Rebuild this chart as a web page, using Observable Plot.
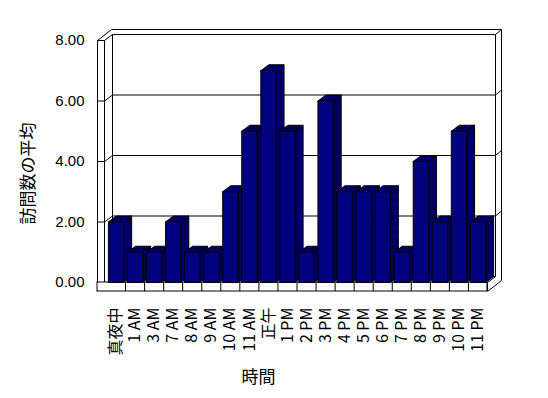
<!DOCTYPE html>
<html>
<head>
<meta charset="utf-8">
<script src="https://cdn.jsdelivr.net/npm/d3@7"></script>
<script src="https://cdn.jsdelivr.net/npm/@observablehq/plot@0.6"></script>
<style>
  html, body { margin: 0; padding: 0; background: #ffffff; }
</style>
</head>
<body>
<svg width="0" height="0" style="position:absolute">
  <defs>
    <pattern id="dither" x="-0.5" y="-0.5" width="2" height="2" patternUnits="userSpaceOnUse">
      <rect width="2" height="2" fill="#000000"/>
      <rect width="1" height="1" fill="#000080"/>
      <rect x="1" y="1" width="1" height="1" fill="#000080"/>
    </pattern>
  </defs>
</svg>
<div id="chart"></div>
<script>
// ---- data ----
const categories = ["真夜中","1 AM","3 AM","7 AM","8 AM","9 AM","10 AM","11 AM","正午","1 PM","2 PM","3 PM","4 PM","5 PM","6 PM","7 PM","8 PM","9 PM","10 PM","11 PM"];
const values = [2,1,1,2,1,1,3,5,7,5,1,6,3,3,3,1,4,2,5,2];
const yTicks = [0,2,4,6,8];
const yTickLabels = ["0.00","2.00","4.00","6.00","8.00"];
const xTitle = "時間";
const yTitle = "訪問数の平均";

// ---- layout ----
const W = 548, H = 398;
const X0 = 106, X1 = 487, Y0 = 282, Y8 = 40;
const n = categories.length, yMax = 8;
const kx = (X1 - X0) / n, ky = (Y0 - Y8) / yMax;
const px = p => p / kx, py = p => p / ky;

const dX = px(8), dY = py(6);      // depth to back wall
const tX = px(6), tY = py(5);      // wall thickness
const wallOut = -px(9), wallIn = -px(2);
const backL = wallIn + dX, backR = n + dX, outR = backR + tX;
const floorB = -py(9);

const seg = [];
const S = (x1, y1, x2, y2) => seg.push({x1, y1, x2, y2});
// left wall
S(wallOut, yMax, wallIn, yMax);
S(wallOut, yMax, wallOut, floorB);
S(wallIn, yMax, wallIn, 0);
S(wallOut, yMax, wallOut + dX + tX, yMax + dY + tY);
S(wallIn, yMax, backL, yMax + dY);
// back wall
S(backL, yMax + dY, backR, yMax + dY);
S(wallOut + dX + tX, yMax + dY + tY, outR, yMax + dY + tY);
S(backR, yMax + dY, backR, dY);
S(outR, yMax + dY + tY, outR, floorB + dY + tY);
S(backR, yMax + dY, outR, yMax + dY + tY);
S(backL, yMax + dY, backL, dY);
S(backL, dY, backR, dY);
// floor right end
S(n, 0, backR, dY);
S(n, floorB, outR, floorB + dY + tY);
// gridlines
for (const v of yTicks.filter(t => t > 0 && t < yMax)) {
  S(wallOut, v, wallIn, v);
  S(wallIn, v, backL, v + dY);
  S(backL, v + dY, backR, v + dY);
  S(backR, v + dY, outR, v + dY + tY);
}

// bar polygons
const inset = px(1.9);
const polys = [];
values.forEach((v, i) => {
  const x0 = i + inset, x1 = i + 1 - inset;
  const side = [[x1, v], [x1 + dX, v + dY], [x1 + dX, dY], [x1, 0], [x1, v]];
  const top = [[x0, v], [x0 + dX, v + dY], [x1 + dX, v + dY], [x1, v], [x0, v]];
  const front = [[x0, 0], [x0, v], [x1, v], [x1, 0], [x0, 0]];
  side.forEach(p => polys.push({id: `s${i}`, x: p[0], y: p[1], f: "url(#dither)"}));
  top.forEach(p => polys.push({id: `t${i}`, x: p[0], y: p[1], f: "url(#dither)"}));
  front.forEach(p => polys.push({id: `f${i}`, x: p[0], y: p[1], f: "#000080"}));
});

const latin = "'Liberation Sans', Arial, sans-serif";
const cjk = "'Noto Sans CJK JP', 'Liberation Sans', sans-serif";

const chart = Plot.plot({
  width: W, height: H, margin: 0,
  x: {domain: [0, n], range: [X0, X1], axis: null},
  y: {domain: [0, yMax], range: [Y0, Y8], axis: null},
  color: {type: "identity"},
  style: {background: "#ffffff", color: "#000000"},
  marks: [
    Plot.link(seg, {x1: "x1", y1: "y1", x2: "x2", y2: "y2", stroke: "#000000", strokeWidth: 1}),
    Plot.rect([{}], {x1: wallOut, x2: n, y1: floorB, y2: 0, fill: "#ffffff", stroke: "#000000"}),
    Plot.ruleX(d3.range(1, n + 1), {y1: floorB, y2: 0, stroke: "#000000"}),
    Plot.line(polys, {x: "x", y: "y", z: "id", fill: "f", stroke: "#000000", strokeWidth: 1, strokeLinejoin: "miter"}),
    Plot.text(yTicks, {x: -px(22), y: d => d, text: (d, i) => yTickLabels[i], textAnchor: "end", fontSize: 15, fontFamily: latin, fill: "#000000"}),
    Plot.text(categories, {x: (d, i) => i + 0.5, y: -py(25), text: d => d, rotate: -90, textAnchor: "end", lineAnchor: "middle", fontSize: 16, fontFamily: cjk, fill: "#000000"}),
    Plot.text([yTitle], {frameAnchor: "left", dx: 28, dy: -26, rotate: -90, textAnchor: "middle", lineAnchor: "middle", fontSize: 17, fontFamily: cjk, fill: "#000000"}),
    Plot.text([xTitle], {frameAnchor: "bottom", dx: -16, dy: -21, textAnchor: "middle", lineAnchor: "middle", fontSize: 17, fontFamily: cjk, fill: "#000000"})
  ]
});
document.getElementById("chart").appendChild(chart);
</script>
</body>
</html>
